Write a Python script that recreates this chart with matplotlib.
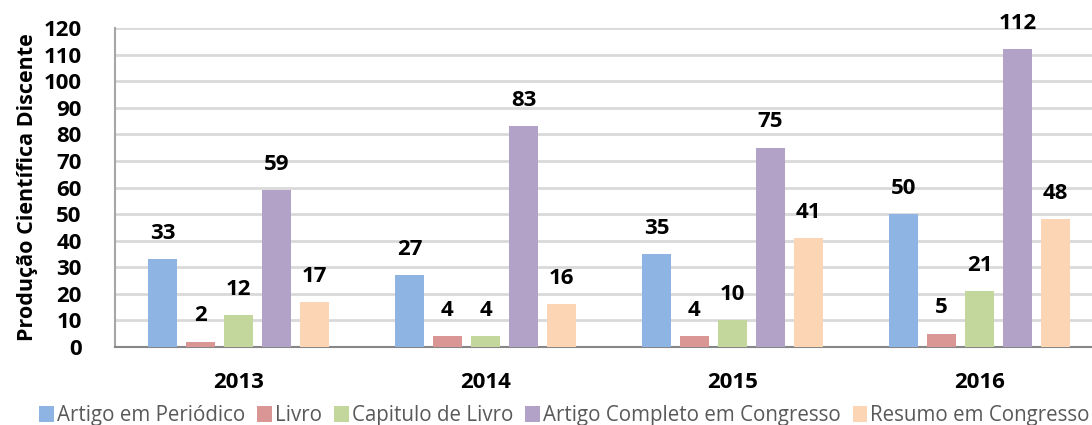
import numpy as np
import matplotlib.pyplot as plt
from matplotlib.patches import Patch

# dados
anos = ['2013', '2014', '2015', '2016']
series = ['Artigo em Periódico', 'Livro', 'Capitulo de Livro',
          'Artigo Completo em Congresso', 'Resumo em Congresso']
artigo_periodico = [33, 27, 35, 50]
livro = [2, 4, 4, 5]
capitulo_livro = [12, 4, 10, 21]
artigo_congresso = [59, 83, 75, 112]
resumo_congresso = [17, 16, 41, 48]
valores = [artigo_periodico, livro, capitulo_livro, artigo_congresso, resumo_congresso]
cores = ['#8EB4E3', '#D99694', '#C3D69B', '#B3A2C7', '#FCD5B5']

plt.rcParams['font.family'] = ['Open Sans', 'DejaVu Sans']

fig = plt.figure(figsize=(10.92, 4.25), dpi=100)
ax = fig.add_axes([115 / 1092, 78 / 425, 988 / 1092, 319 / 425])

x = np.arange(len(anos))
largura = 0.117
passo = 0.154
for k, (nome, vals, cor) in enumerate(zip(series, valores, cores)):
    pos = x + (k - 2) * passo
    barras = ax.bar(pos, vals, width=largura, color=cor, label=nome, zorder=3)
    for b, v in zip(barras, vals):
        ax.annotate(str(v), (b.get_x() + b.get_width() / 2, v),
                    xytext=(0, 11), textcoords='offset points',
                    ha='center', va='bottom', fontsize=16, fontweight='bold')

ax.set_xlim(-0.5, 3.5)
ax.set_ylim(0, 120)
ax.set_yticks(range(0, 121, 10))
ax.set_xticks(x)
ax.set_xticklabels(anos, fontsize=16, fontweight='bold')
ax.tick_params(axis='x', length=0, pad=18)
ax.tick_params(axis='y', length=0, pad=24, labelsize=16)
for t in ax.get_yticklabels():
    t.set_fontweight('bold')
ax.yaxis.grid(True, color='#D9D9D9', linewidth=2, zorder=0)
ax.set_axisbelow(True)
for s in ['top', 'right']:
    ax.spines[s].set_visible(False)
ax.spines['left'].set_color('#A6A6A6')
ax.spines['left'].set_linewidth(1.5)
ax.spines['bottom'].set_color('#868686')
ax.spines['bottom'].set_linewidth(1.5)
ax.set_ylabel('Produção Científica Discente', fontsize=15.5, fontweight='bold', labelpad=4)

handles = [Patch(facecolor=c, edgecolor='none') for c in cores]
fig.legend(handles, series, loc='center', bbox_to_anchor=(0.517, 0.022), ncol=5,
           frameon=False, fontsize=14.8, handlelength=0.7, handleheight=0.75,
           handletextpad=0.15, columnspacing=0.6, labelcolor='#595959')

fig.savefig('out.png', dpi=100)
